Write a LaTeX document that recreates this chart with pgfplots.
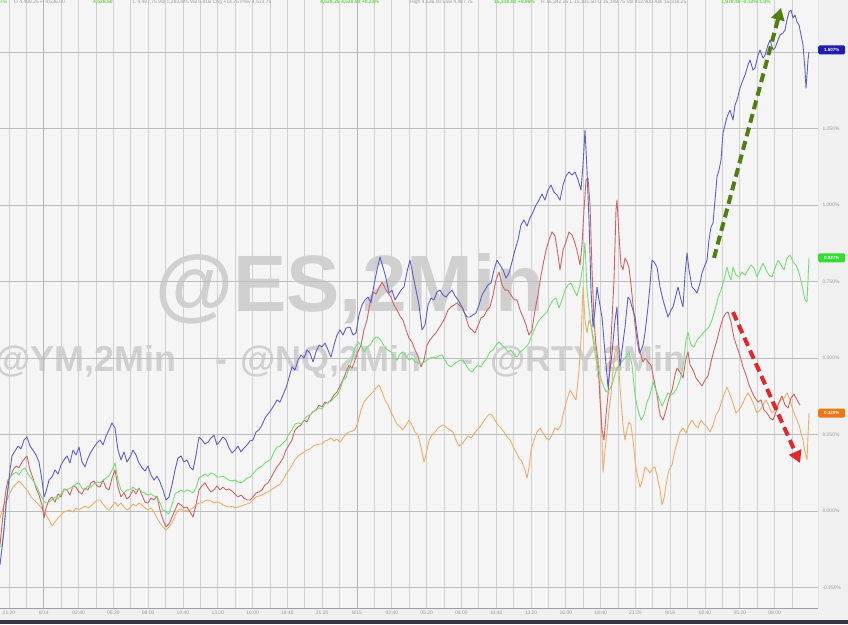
\documentclass[border=0pt]{standalone}
\usepackage{pgfplots}
\pgfplotsset{compat=1.18}
\usepackage{fontspec}
\setmainfont{Liberation Sans}
\usetikzlibrary{arrows.meta}
\definecolor{bgout}{HTML}{F0F0F0}
\definecolor{bgplot}{HTML}{F5F5F5}
\definecolor{gridv}{HTML}{D0D0D0}
\definecolor{gridh}{HTML}{BDBDBD}
\definecolor{griddark}{HTML}{B4B4B4}
\definecolor{labgray}{HTML}{9A9A9A}
\definecolor{wm}{HTML}{D0D0D0}
\definecolor{nqblue}{HTML}{5F5FC8}
\definecolor{esred}{HTML}{D06464}
\definecolor{ymgreen}{HTML}{74DE74}
\definecolor{rtyorange}{HTML}{EEAE68}
\definecolor{arrgreen}{HTML}{4F7F12}
\definecolor{arrred}{HTML}{E2262B}
\definecolor{tagblue}{HTML}{1E1EAA}
\definecolor{taggreen}{HTML}{33DD33}
\definecolor{tagorange}{HTML}{EE7711}
\definecolor{hdrgreen}{HTML}{66D44A}
\definecolor{darkbar}{HTML}{35383C}
\begin{document}
\begin{tikzpicture}[x=1pt,y=1pt]
\useasboundingbox (0,0) rectangle (848,624);
\fill[bgout] (0,0) rectangle (848,624);
\fill[bgplot] (0,16) rectangle (818,624);
% watermark
\node[anchor=base west, inner sep=0, text=wm, font=\fontsize{80}{80}\selectfont\bfseries] at (155,312) {@ES,2Min};
\begin{scope}[every node/.style={inner sep=0, text=wm, font=\fontsize{36}{36}\selectfont\bfseries}]
\node[anchor=base west] at (-5,252) {@YM,2Min};
\node[anchor=base] at (221,252) {-};
\node[anchor=base west] at (240,252) {@NQ,2Min};
\node[anchor=base] at (467,252) {-};
\node[anchor=base west] at (490,252) {@RTY,2Min};
\end{scope}
\begin{axis}[
  at={(0pt,16pt)}, anchor=south west, scale only axis,
  width=818pt, height=608pt,
  xmin=0, xmax=818, ymin=-0.317, ymax=1.670,
  axis line style={draw=none},
  xtick={9,43.8,...,775}, minor xtick={26.4,61.2,...,793},
  xticklabels={21:20,8/14,02:40,05:20,08:00,10:40,13:20,16:00,18:40,21:20,8/15,02:40,05:20,08:00,10:40,13:20,16:00,18:40,21:20,8/16,02:40,05:20,08:00},
  ytick={-0.25,0,...,1.25},
  extra y ticks={1.5}, extra y tick labels={},
  extra y tick style={grid=major},
  yticklabel pos=right,
  yticklabel={\pgfmathprintnumber[fixed,fixed zerofill,precision=3]{\tick}\%},
  /pgf/number format/assume math mode=true,
  scaled y ticks=false,
  major tick length=0pt, minor tick length=0pt,
  xmajorgrids, xminorgrids, ymajorgrids,
  every axis x grid/.append style={draw=gridv, line width=0.9pt},
  every axis y grid/.append style={draw=gridh, line width=0.9pt},
  xticklabel style={font=\fontsize{5}{6}\selectfont, text=labgray, yshift=1pt},
  yticklabel style={font=\fontsize{5}{6}\selectfont, text=labgray, xshift=1pt},
  line join=round,
]
\draw[griddark, line width=1pt] (axis cs:43.8,-0.317) -- (axis cs:43.8,1.670);
\draw[griddark, line width=1pt] (axis cs:357,-0.317) -- (axis cs:357,1.670);
% RTY (orange)
\addplot[rtyorange, line width=0.9pt] coordinates {
(0,-0.023)(2,-0.003)(4,0.020)(7,0.036)(10,0.059)(13,0.078)(16,0.088)(19,0.098)(22,0.088)(25,0.075)(28,0.065)(31,0.046)(34,0.036)(37,0.026)(40,0.016)(43,0.003)(46,-0.013)(49,-0.029)(52,-0.049)(55,-0.036)(58,-0.023)(61,-0.013)(64,-0.003)(67,0.000)(70,0.003)(73,-0.003)(76,0.010)(79,0.003)(82,0.010)(85,0.016)(88,0.010)(91,0.016)(94,0.026)(97,0.036)(100,0.036)(103,0.023)(106,0.010)(109,0.003)(112,0.016)(115,0.029)(118,0.016)(121,0.026)(124,0.013)(127,0.003)(130,0.010)(133,0.023)(136,0.016)(139,0.026)(142,0.020)(145,0.010)(148,0.003)(151,0.010)(154,-0.003)(157,-0.023)(160,-0.039)(163,-0.052)(166,-0.062)(169,-0.052)(172,-0.039)(175,-0.016)(178,0.003)(181,0.007)(184,0.000)(187,0.003)(190,0.003)(193,0.010)(196,0.020)(199,0.026)(202,0.026)(205,0.033)(208,0.036)(211,0.033)(214,0.026)(217,0.029)(220,0.026)(223,0.020)(226,0.016)(229,0.013)(232,0.016)(235,0.010)(238,0.013)(241,0.016)(244,0.020)(247,0.023)(250,0.026)(253,0.036)(256,0.046)(259,0.049)(262,0.052)(265,0.059)(268,0.062)(271,0.069)(274,0.075)(277,0.082)(280,0.088)(283,0.101)(286,0.121)(289,0.134)(292,0.150)(295,0.167)(298,0.180)(301,0.186)(304,0.193)(307,0.199)(310,0.203)(313,0.212)(316,0.216)(319,0.219)(322,0.219)(325,0.229)(328,0.232)(331,0.239)(334,0.229)(337,0.235)(340,0.225)(343,0.239)(346,0.252)(349,0.258)(352,0.261)(355,0.265)(358,0.291)(361,0.330)(364,0.356)(367,0.369)(370,0.379)(373,0.389)(376,0.402)(379,0.412)(382,0.389)(385,0.363)(388,0.346)(391,0.324)(394,0.304)(397,0.284)(400,0.275)(403,0.265)(406,0.281)(409,0.297)(412,0.281)(415,0.258)(418,0.248)(421,0.209)(424,0.160)(426,0.183)(429,0.232)(432,0.248)(435,0.258)(438,0.271)(441,0.278)(444,0.281)(447,0.271)(450,0.265)(453,0.258)(456,0.232)(459,0.212)(462,0.219)(465,0.232)(468,0.245)(471,0.239)(474,0.252)(477,0.265)(480,0.275)(483,0.291)(486,0.304)(489,0.317)(492,0.314)(495,0.297)(498,0.281)(501,0.271)(504,0.258)(507,0.242)(510,0.232)(513,0.212)(516,0.193)(519,0.173)(522,0.160)(525,0.134)(527,0.108)(529,0.141)(531,0.199)(534,0.232)(537,0.258)(540,0.271)(543,0.255)(546,0.239)(549,0.232)(552,0.248)(555,0.271)(558,0.265)(561,0.281)(564,0.330)(567,0.363)(570,0.395)(573,0.379)(576,0.363)(579,0.461)(581,0.559)(583,0.732)(585,0.624)(587,0.582)(589,0.624)(591,0.608)(593,0.575)(595,0.542)(597,0.493)(599,0.428)(601,0.330)(603,0.127)(605,0.199)(607,0.258)(609,0.330)(611,0.379)(613,0.461)(615,0.520)(617,0.542)(619,0.454)(621,0.363)(623,0.281)(625,0.232)(627,0.265)(629,0.291)(631,0.281)(633,0.232)(635,0.167)(637,0.121)(640,0.078)(643,0.108)(645,0.144)(648,0.134)(650,0.124)(653,0.141)(655,0.144)(658,0.101)(660,0.069)(662,0.020)(664,0.042)(666,0.085)(669,0.134)(672,0.150)(675,0.199)(677,0.222)(680,0.258)(683,0.271)(686,0.255)(689,0.281)(692,0.297)(695,0.281)(698,0.271)(701,0.297)(704,0.284)(707,0.275)(710,0.258)(713,0.281)(716,0.314)(719,0.330)(722,0.363)(725,0.389)(727,0.405)(730,0.379)(733,0.353)(736,0.320)(739,0.330)(742,0.346)(745,0.369)(748,0.386)(751,0.369)(754,0.346)(757,0.320)(760,0.330)(763,0.346)(766,0.363)(769,0.343)(772,0.320)(775,0.330)(778,0.346)(781,0.363)(784,0.369)(787,0.386)(790,0.363)(793,0.330)(796,0.304)(799,0.281)(801,0.255)(803,0.232)(805,0.193)(807,0.167)(809,0.320)
};
% ES (red)
\addplot[esred, line width=0.9pt] coordinates {
(0,-0.111)(2,-0.046)(4,0.020)(6,0.069)(8,0.101)(10,0.108)(13,0.134)(16,0.147)(19,0.141)(22,0.160)(25,0.173)(27,0.180)(30,0.134)(33,0.108)(36,0.075)(39,0.052)(42,0.020)(44,-0.023)(46,0.010)(49,0.036)(52,0.046)(55,0.029)(58,0.056)(61,0.046)(64,0.072)(67,0.069)(70,0.052)(73,0.082)(76,0.078)(79,0.062)(82,0.056)(85,0.075)(88,0.069)(91,0.092)(94,0.098)(97,0.082)(100,0.078)(103,0.101)(106,0.075)(109,0.069)(112,0.108)(115,0.134)(118,0.078)(121,0.046)(124,0.059)(127,0.039)(130,0.049)(133,0.069)(136,0.056)(139,0.075)(142,0.052)(145,0.029)(148,0.026)(151,0.042)(154,0.036)(157,0.049)(160,0.003)(163,-0.029)(166,-0.052)(169,-0.042)(172,-0.020)(175,0.003)(178,0.026)(181,0.020)(184,0.010)(187,0.013)(190,-0.003)(193,-0.020)(196,0.020)(199,0.069)(202,0.082)(205,0.092)(208,0.075)(211,0.062)(214,0.069)(217,0.082)(220,0.069)(223,0.078)(226,0.069)(229,0.072)(232,0.065)(235,0.056)(238,0.046)(241,0.052)(244,0.042)(247,0.036)(250,0.036)(253,0.046)(256,0.059)(259,0.062)(262,0.069)(265,0.085)(268,0.092)(271,0.108)(274,0.127)(277,0.144)(280,0.157)(283,0.173)(286,0.199)(289,0.216)(292,0.232)(295,0.265)(298,0.275)(301,0.281)(304,0.297)(307,0.291)(310,0.314)(313,0.324)(316,0.330)(319,0.346)(322,0.340)(325,0.356)(328,0.353)(331,0.363)(334,0.379)(337,0.389)(340,0.409)(343,0.428)(346,0.454)(349,0.477)(352,0.467)(355,0.493)(358,0.520)(361,0.542)(364,0.592)(367,0.624)(370,0.680)(373,0.716)(376,0.709)(379,0.729)(382,0.748)(385,0.729)(388,0.712)(391,0.699)(394,0.673)(397,0.657)(400,0.637)(403,0.624)(406,0.592)(409,0.565)(412,0.552)(415,0.526)(418,0.507)(421,0.471)(424,0.493)(427,0.542)(430,0.559)(433,0.572)(436,0.582)(439,0.598)(442,0.614)(445,0.631)(448,0.657)(451,0.667)(454,0.673)(457,0.680)(460,0.670)(463,0.663)(466,0.631)(469,0.601)(472,0.592)(475,0.582)(478,0.605)(481,0.631)(484,0.637)(487,0.657)(490,0.667)(493,0.706)(496,0.755)(499,0.781)(502,0.739)(505,0.722)(508,0.722)(511,0.706)(514,0.690)(517,0.690)(520,0.657)(523,0.634)(526,0.608)(529,0.575)(532,0.592)(535,0.657)(538,0.706)(541,0.771)(543,0.804)(546,0.853)(549,0.886)(552,0.912)(555,0.899)(558,0.837)(560,0.788)(563,0.853)(566,0.879)(569,0.912)(572,0.902)(575,0.876)(578,0.837)(580,0.804)(582,0.869)(584,0.984)(586,1.082)(588,1.088)(590,1.000)(592,0.788)(594,0.624)(596,0.542)(598,0.493)(600,0.363)(602,0.265)(604,0.232)(606,0.314)(608,0.379)(610,0.493)(612,0.624)(614,0.755)(616,0.984)(617,1.016)(619,0.902)(621,0.804)(623,0.788)(625,0.827)(627,0.814)(629,0.794)(631,0.739)(633,0.673)(635,0.608)(637,0.559)(639,0.520)(641,0.510)(643,0.487)(645,0.500)(648,0.487)(651,0.477)(654,0.428)(657,0.379)(660,0.314)(663,0.297)(666,0.330)(669,0.369)(672,0.395)(675,0.444)(677,0.467)(680,0.454)(683,0.435)(686,0.500)(688,0.520)(690,0.477)(693,0.461)(696,0.435)(699,0.422)(702,0.409)(705,0.428)(708,0.441)(711,0.487)(714,0.526)(717,0.559)(720,0.598)(723,0.631)(726,0.647)(728,0.650)(731,0.618)(734,0.565)(737,0.536)(740,0.507)(743,0.471)(746,0.444)(749,0.412)(752,0.389)(755,0.369)(758,0.356)(761,0.363)(764,0.330)(767,0.320)(770,0.304)(773,0.297)(776,0.324)(779,0.356)(782,0.376)(785,0.346)(788,0.337)(791,0.369)(794,0.382)(797,0.363)(800,0.346)
};
% YM (green)
\addplot[ymgreen, line width=0.9pt] coordinates {
(0,-0.118)(2,-0.111)(4,-0.062)(6,0.020)(8,0.069)(10,0.111)(13,0.121)(16,0.127)(19,0.118)(22,0.134)(25,0.141)(28,0.121)(31,0.108)(34,0.095)(37,0.078)(40,0.056)(43,0.036)(46,0.026)(49,0.029)(52,0.036)(55,0.046)(58,0.039)(61,0.056)(64,0.069)(67,0.069)(70,0.075)(73,0.078)(76,0.088)(79,0.092)(82,0.075)(85,0.069)(88,0.082)(91,0.078)(94,0.088)(97,0.095)(100,0.092)(103,0.101)(106,0.108)(109,0.114)(112,0.134)(115,0.157)(118,0.101)(121,0.069)(124,0.059)(127,0.069)(130,0.069)(133,0.078)(136,0.069)(139,0.072)(142,0.062)(145,0.059)(148,0.052)(151,0.056)(154,0.049)(157,0.046)(160,0.026)(163,0.003)(166,-0.003)(169,-0.010)(172,0.020)(175,0.056)(178,0.062)(181,0.069)(184,0.062)(187,0.069)(190,0.065)(193,0.059)(196,0.075)(199,0.108)(202,0.114)(205,0.121)(208,0.114)(211,0.124)(214,0.121)(217,0.111)(220,0.111)(223,0.114)(226,0.108)(229,0.101)(232,0.098)(235,0.101)(238,0.095)(241,0.092)(244,0.098)(247,0.108)(250,0.111)(253,0.121)(256,0.134)(259,0.141)(262,0.147)(265,0.157)(268,0.163)(271,0.170)(274,0.193)(277,0.209)(280,0.212)(283,0.222)(286,0.232)(289,0.252)(292,0.265)(295,0.284)(298,0.288)(301,0.284)(304,0.297)(307,0.310)(310,0.314)(313,0.324)(316,0.330)(319,0.337)(322,0.333)(325,0.350)(328,0.356)(331,0.359)(334,0.369)(337,0.379)(340,0.395)(343,0.428)(346,0.435)(349,0.467)(352,0.493)(355,0.533)(358,0.552)(361,0.542)(364,0.520)(367,0.536)(370,0.542)(373,0.559)(376,0.569)(379,0.565)(382,0.552)(385,0.533)(388,0.526)(391,0.520)(394,0.500)(397,0.493)(400,0.513)(403,0.520)(406,0.507)(409,0.493)(412,0.500)(415,0.487)(418,0.484)(421,0.480)(424,0.487)(427,0.493)(430,0.500)(433,0.503)(436,0.500)(439,0.507)(442,0.510)(445,0.493)(448,0.477)(451,0.471)(454,0.480)(457,0.487)(460,0.493)(463,0.493)(466,0.477)(469,0.461)(472,0.454)(475,0.467)(478,0.477)(481,0.471)(484,0.487)(487,0.500)(490,0.520)(493,0.526)(496,0.542)(499,0.552)(502,0.542)(505,0.533)(508,0.520)(511,0.526)(514,0.510)(517,0.503)(520,0.520)(523,0.526)(526,0.536)(529,0.549)(532,0.575)(535,0.598)(538,0.618)(541,0.631)(544,0.641)(547,0.650)(550,0.673)(553,0.690)(556,0.696)(559,0.663)(562,0.690)(565,0.722)(568,0.739)(571,0.745)(574,0.722)(577,0.703)(580,0.739)(583,0.804)(585,0.876)(587,0.722)(589,0.657)(591,0.608)(593,0.559)(595,0.516)(597,0.477)(600,0.444)(603,0.412)(606,0.389)(609,0.395)(612,0.412)(614,0.435)(617,0.467)(620,0.480)(623,0.493)(626,0.503)(629,0.520)(632,0.477)(635,0.379)(638,0.330)(641,0.297)(644,0.314)(647,0.356)(650,0.379)(653,0.422)(656,0.395)(659,0.369)(662,0.343)(665,0.363)(668,0.386)(671,0.379)(674,0.386)(677,0.402)(680,0.428)(683,0.471)(686,0.559)(688,0.585)(691,0.542)(694,0.536)(697,0.559)(700,0.569)(703,0.582)(706,0.592)(709,0.601)(712,0.624)(715,0.657)(718,0.696)(721,0.722)(724,0.755)(727,0.797)(729,0.771)(731,0.755)(733,0.797)(736,0.771)(739,0.765)(742,0.781)(745,0.771)(748,0.788)(751,0.804)(754,0.794)(757,0.765)(760,0.788)(763,0.810)(766,0.788)(769,0.771)(772,0.765)(775,0.794)(778,0.820)(781,0.804)(784,0.788)(787,0.827)(790,0.837)(793,0.814)(796,0.804)(799,0.778)(802,0.739)(805,0.690)(807,0.683)(809,0.827)
};
% NQ (blue)
\addplot[nqblue, line width=0.9pt] coordinates {
(0,-0.176)(2,-0.121)(4,-0.062)(6,0.020)(8,0.075)(10,0.134)(12,0.180)(15,0.196)(18,0.212)(21,0.203)(24,0.232)(27,0.242)(30,0.212)(33,0.199)(36,0.183)(39,0.160)(42,0.101)(44,0.046)(46,0.062)(49,0.101)(52,0.111)(55,0.134)(58,0.121)(61,0.150)(64,0.167)(67,0.180)(70,0.157)(73,0.199)(76,0.183)(79,0.209)(82,0.160)(85,0.144)(88,0.173)(91,0.193)(94,0.209)(97,0.222)(100,0.232)(103,0.216)(106,0.245)(109,0.265)(112,0.288)(115,0.271)(118,0.199)(121,0.167)(124,0.193)(127,0.160)(130,0.176)(133,0.199)(136,0.183)(139,0.157)(142,0.141)(145,0.131)(148,0.147)(151,0.118)(154,0.101)(157,0.114)(160,0.095)(163,0.069)(166,0.036)(169,0.046)(172,0.085)(175,0.134)(178,0.173)(181,0.180)(184,0.160)(187,0.167)(190,0.144)(193,0.134)(196,0.183)(199,0.242)(202,0.232)(205,0.219)(208,0.225)(211,0.239)(214,0.248)(217,0.216)(220,0.229)(223,0.242)(226,0.232)(229,0.206)(232,0.190)(235,0.199)(238,0.212)(241,0.193)(244,0.206)(247,0.216)(250,0.229)(253,0.232)(256,0.258)(259,0.265)(262,0.281)(265,0.304)(268,0.317)(271,0.330)(274,0.346)(277,0.363)(280,0.356)(283,0.379)(286,0.402)(289,0.435)(292,0.471)(295,0.461)(298,0.493)(301,0.510)(304,0.500)(307,0.526)(310,0.516)(313,0.487)(316,0.520)(319,0.542)(322,0.536)(325,0.549)(328,0.526)(331,0.503)(334,0.542)(337,0.575)(340,0.592)(343,0.575)(346,0.598)(350,0.601)(353,0.575)(356,0.582)(359,0.641)(362,0.673)(365,0.690)(368,0.699)(371,0.680)(374,0.739)(377,0.788)(380,0.830)(383,0.797)(386,0.761)(389,0.712)(392,0.722)(395,0.690)(398,0.706)(401,0.722)(404,0.732)(407,0.781)(410,0.820)(413,0.771)(416,0.722)(419,0.673)(422,0.592)(425,0.608)(428,0.673)(431,0.696)(434,0.690)(437,0.716)(440,0.722)(443,0.706)(446,0.699)(449,0.712)(452,0.722)(455,0.703)(458,0.690)(461,0.673)(464,0.650)(467,0.634)(470,0.634)(473,0.641)(476,0.647)(479,0.673)(482,0.706)(485,0.722)(488,0.739)(491,0.745)(494,0.788)(497,0.820)(500,0.804)(503,0.788)(506,0.761)(509,0.778)(512,0.814)(515,0.853)(518,0.886)(521,0.935)(524,0.951)(527,0.931)(530,0.958)(533,0.977)(536,1.000)(539,1.016)(542,1.036)(545,1.016)(548,1.049)(551,1.065)(554,1.042)(557,1.033)(560,1.016)(563,1.065)(566,1.095)(569,1.108)(572,1.098)(575,1.108)(578,1.082)(581,1.049)(583,1.131)(585,1.245)(587,1.114)(589,0.951)(591,0.722)(593,0.601)(595,0.657)(597,0.732)(599,0.690)(602,0.634)(605,0.516)(608,0.405)(610,0.461)(612,0.516)(615,0.624)(617,0.667)(618,0.582)(620,0.471)(622,0.526)(625,0.601)(628,0.699)(630,0.690)(632,0.667)(635,0.634)(638,0.559)(640,0.516)(643,0.542)(645,0.582)(648,0.667)(650,0.739)(652,0.820)(654,0.814)(657,0.797)(660,0.732)(663,0.690)(665,0.667)(668,0.634)(671,0.657)(673,0.667)(676,0.706)(678,0.732)(681,0.690)(683,0.667)(685,0.771)(687,0.843)(689,0.788)(692,0.732)(695,0.722)(697,0.712)(700,0.745)(702,0.778)(705,0.804)(707,0.820)(709,0.886)(711,0.928)(713,0.941)(715,1.016)(717,1.092)(719,1.114)(721,1.147)(723,1.235)(725,1.261)(727,1.288)(730,1.310)(733,1.278)(735,1.327)(737,1.343)(740,1.382)(743,1.409)(745,1.425)(748,1.458)(750,1.474)(753,1.441)(755,1.448)(758,1.490)(760,1.507)(763,1.480)(765,1.490)(768,1.523)(770,1.539)(773,1.507)(775,1.513)(778,1.539)(780,1.556)(783,1.562)(785,1.572)(787,1.605)(789,1.631)(791,1.637)(793,1.611)(795,1.621)(797,1.598)(799,1.588)(801,1.556)(803,1.523)(805,1.441)(806,1.382)(807,1.425)(808,1.474)(809,1.500)
};
% annotation arrows
\draw[arrgreen, line width=4pt, dash pattern=on 9pt off 5pt, -{Triangle[length=12pt,width=13pt]}] (axis cs:714,0.827) -- (axis cs:781,1.644);
\draw[arrred, line width=4pt, dash pattern=on 9pt off 5pt, -{Triangle[length=12pt,width=13pt]}] (axis cs:733,0.650) -- (axis cs:800,0.157);
% frame lines
\draw[gray!75, line width=1pt] (rel axis cs:0,0) -- (rel axis cs:1,0);
\draw[gray!75, line width=1pt] (rel axis cs:1,0) -- (rel axis cs:1,1);
\coordinate (tb) at (axis cs:818,1.507);
\coordinate (tg) at (axis cs:818,0.827);
\coordinate (to) at (axis cs:818,0.320);
\end{axis}
% last-value tags
\begin{scope}[every node/.style={anchor=west, inner sep=0.8pt, minimum height=9pt, minimum width=27pt, rounded corners=1.5pt, text=white, font=\fontsize{4.5}{5}\selectfont\bfseries}]
\node[fill=tagblue] at (tb) {1.507\%};
\node[fill=taggreen] at (tg) {0.827\%};
\node[fill=tagorange] at (to) {0.320\%};
\end{scope}
% header strip
\begin{scope}[every node/.style={anchor=base west, inner sep=0, font=\fontsize{5}{6}\selectfont}]
\node[text=hdrgreen] at (0,620) {4\%};
\node[text=labgray] at (14,620) {O 4,498.25  H 4,536.00};
\node[text=hdrgreen, font=\fontsize{5}{6}\selectfont\bfseries] at (93,620) {4,528.50};
\node[text=labgray] at (133,620) {L 4,487.75  Vol 1,283,445  Val 5.81B  Chg +14.75  Prev 4,513.75};
\node[text=hdrgreen, font=\fontsize{5}{6}\selectfont\bfseries] at (320,620) {4,528.25  4,528.50  +0.33\%};
\node[text=labgray] at (410,620) {High 4,536.00  Low 4,487.75};
\node[text=hdrgreen, font=\fontsize{5}{6}\selectfont\bfseries] at (494,620) {15,318.00 +0.96\%};
\node[text=labgray] at (541,620) {H 15,342.25  L 15,101.50  O 15,148.75  Vol 412,900  Ask 15,318.25};
\node[text=hdrgreen, font=\fontsize{5}{6}\selectfont\bfseries] at (721,620) {1,978.40  -0.12\%  1.8\%};
\end{scope}
% bottom bar
\fill[darkbar] (0,0) rectangle (848,4);
\end{tikzpicture}
\end{document}
